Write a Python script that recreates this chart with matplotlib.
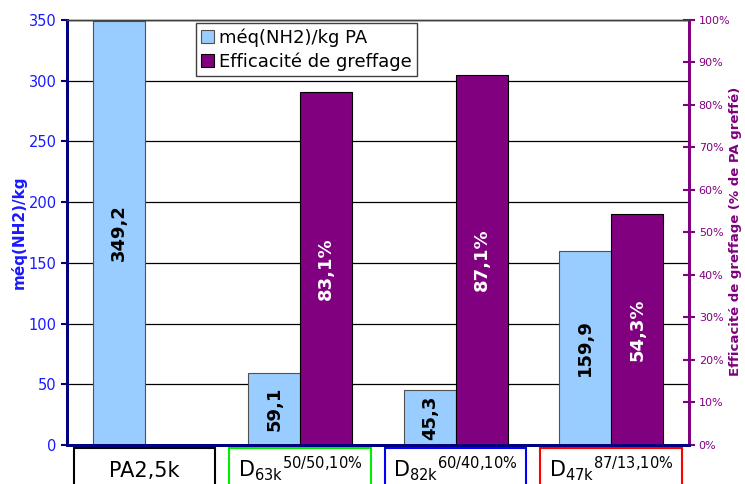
"""Amine content and grafting efficiency per sample (bar chart, two y axes)."""

import matplotlib

matplotlib.use("Agg")
import matplotlib.pyplot as plt
from matplotlib.patches import Rectangle
from matplotlib.transforms import blended_transform_factory

# data
sample_names = ["PA2,5k", "D", "D", "D"]
sample_subs = ["", "63k", "82k", "47k"]
sample_sups = ["", "50/50,10%", "60/40,10%", "87/13,10%"]
box_colors = ["black", "#00EE00", "#0000FF", "#FF0000"]
meq_nh2 = [349.2, 59.1, 45.3, 159.9]
grafting = [None, 83.1, 87.1, 54.3]

BLUE_BAR = "#99CCFF"
PURPLE = "#800080"
NAVY = "#000080"


def fr(value: float) -> str:
    return f"{value:.1f}".replace(".", ",")


def main() -> None:
    figure = plt.figure(figsize=(7.45, 4.84), dpi=100)
    axes = figure.add_axes([0.0899, 0.0806, 0.8349, 0.8781])
    right = axes.twinx()

    width = 0.334
    positions = list(range(len(meq_nh2)))

    blue_bars = axes.bar(
        [p - width / 2 for p in positions],
        meq_nh2,
        width=width,
        color=BLUE_BAR,
        edgecolor="#505050",
        linewidth=0.8,
        zorder=2,
        label="méq(NH2)/kg PA",
    )
    for bar, value in zip(blue_bars, meq_nh2):
        axes.text(
            bar.get_x() + bar.get_width() / 2,
            value / 2,
            fr(value),
            rotation=90,
            ha="center",
            va="center",
            fontsize=13,
            fontweight="bold",
            color="black",
            zorder=3,
        )

    graft_pos = [p + width / 2 for p, g in zip(positions, grafting) if g is not None]
    graft_val = [g for g in grafting if g is not None]
    purple_bars = right.bar(
        graft_pos,
        graft_val,
        width=width,
        color=PURPLE,
        edgecolor="black",
        linewidth=0.8,
        label="Efficacité de greffage",
    )
    for bar, value in zip(purple_bars, graft_val):
        right.text(
            bar.get_x() + bar.get_width() / 2,
            value / 2,
            fr(value) + "%",
            rotation=90,
            ha="center",
            va="center",
            fontsize=13,
            fontweight="bold",
            color="white",
        )

    # left axis
    axes.set_xlim(-0.5, len(meq_nh2) - 0.5)
    axes.set_ylim(0, 350)
    axes.set_yticks(range(0, 351, 50))
    axes.set_xticks([])
    axes.yaxis.grid(True, color="black", linewidth=0.9)
    axes.set_axisbelow(True)
    axes.tick_params(
        axis="y", colors=NAVY, labelcolor="#1a1aff", labelsize=10.5,
        direction="out", length=4, width=1.5,
    )
    axes.set_ylabel(
        "méq(NH2)/kg", color="#1a1aff", fontsize=11, fontweight="bold"
    )
    axes.yaxis.set_label_coords(-0.064, 0.5)

    # right axis
    right.set_ylim(0, 100)
    right.set_yticks(range(0, 101, 10))
    right.set_yticklabels([f"{t}%" for t in range(0, 101, 10)])
    right.tick_params(
        axis="y", colors=PURPLE, labelsize=8, direction="inout",
        length=8, width=1.5, pad=3,
    )
    right.set_ylabel(
        "Efficacité de greffage (% de PA greffé)",
        color=PURPLE,
        fontsize=9.5,
        fontweight="bold",
    )
    right.yaxis.set_label_coords(1.064, 0.503)

    for ax in (axes, right):
        ax.spines["top"].set_color("#404040")
        ax.spines["top"].set_linewidth(1.0)
        ax.spines["left"].set_color(NAVY)
        ax.spines["left"].set_linewidth(2.0)
        ax.spines["right"].set_color(PURPLE)
        ax.spines["right"].set_linewidth(2.0)
        ax.spines["bottom"].set_color(NAVY)
        ax.spines["bottom"].set_linewidth(2.0)

    # category boxes under the axis
    blend = blended_transform_factory(axes.transData, axes.transAxes)
    for i, (name, sub, sup, edge) in enumerate(
        zip(sample_names, sample_subs, sample_sups, box_colors)
    ):
        right.add_patch(
            Rectangle(
                (i - 0.455, -0.2),
                0.91,
                0.193,
                transform=blend,
                facecolor="white",
                edgecolor=edge,
                linewidth=1.5,
                clip_on=False,
            )
        )
        if sub:
            sup_tex = sup.replace("%", r"\%").replace(",", "{,}")
            label = r"$\mathregular{%s_{%s}{}^{%s}}$" % (name, sub, sup_tex)
        else:
            label = name
        right.text(
            i,
            -0.075,
            label,
            transform=blend,
            ha="center",
            va="baseline",
            fontsize=15,
            color="black",
            clip_on=False,
        )

    legend = figure.legend(
        handles=[blue_bars, purple_bars],
        loc="upper left",
        bbox_to_anchor=(0.263, 0.9525),
        bbox_transform=figure.transFigure,
        borderaxespad=0,
        fontsize=13,
        fancybox=False,
        framealpha=1,
        edgecolor="#404040",
        handlelength=0.7,
        handleheight=0.7,
        handletextpad=0.25,
        borderpad=0.3,
        labelspacing=0.3,
    )
    legend.get_frame().set_linewidth(1.0)

    figure.savefig("out.png", dpi=100)
    plt.close(figure)


if __name__ == "__main__":
    main()
